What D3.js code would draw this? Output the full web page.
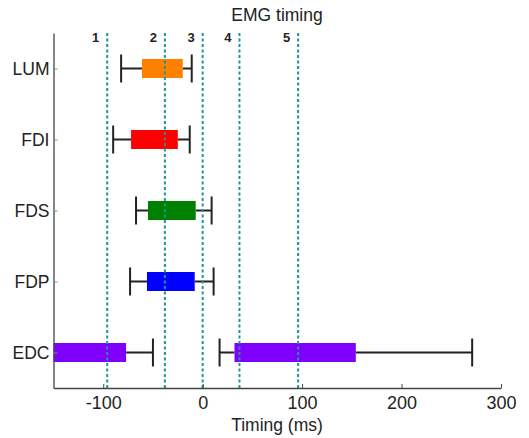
<!DOCTYPE html>
<html><head><meta charset="utf-8">
<script src="https://cdn.jsdelivr.net/npm/d3@7"></script>
<style>body{margin:0;background:#fff;} svg{display:block;font-family:"Liberation Sans",Arial,sans-serif;}</style>
</head><body>
<svg id="c" width="529" height="438"></svg>
<script>
const categories = ["LUM","FDI","FDS","FDP","EDC"];
const colors = ["#ff8000","#ff0000","#008000","#0000ff","#8000ff"];
// each segment: whisker low, box low, box high, whisker high (null = no whisker on that side)
const segments = [
  {cat:"LUM", lo:-82, q1:-61, q3:-20, hi:-11},
  {cat:"FDI", lo:-90, q1:-72, q3:-25, hi:-13},
  {cat:"FDS", lo:-67, q1:-55, q3:-7, hi:9},
  {cat:"FDP", lo:-73, q1:-56, q3:-8, hi:11},
  {cat:"EDC", lo:null, q1:-160, q3:-77, hi:-50},
  {cat:"EDC", lo:17, q1:32, q3:154, hi:271}
];
const eventTimes = [-96, -38, 0, 37, 96];
const eventLabels = ["1","2","3","4","5"];
const xTicks = [-100, 0, 100, 200, 300];

const svg = d3.select("#c");
const L = 53.5, R = 501, T = 33, B = 388;
const x = d3.scaleLinear().domain([-150, 300]).range([L, R]);
const y = d3.scaleLinear().domain([0.5, 5.5]).range([T, B]);
const yc = c => y(categories.indexOf(c) + 1);

svg.append("clipPath").attr("id","clp").append("rect")
  .attr("x", L).attr("y", T).attr("width", R - L).attr("height", B - T);
const g = svg.append("g").attr("clip-path","url(#clp)");

const boxH = 19, capH = 28;
segments.forEach(s => {
  const cy = yc(s.cat);
  const col = colors[categories.indexOf(s.cat)];
  if (s.lo !== null) {
    g.append("line").attr("x1", x(s.lo)).attr("x2", x(s.q1)).attr("y1", cy).attr("y2", cy)
      .attr("stroke","#222").attr("stroke-width",2);
    g.append("line").attr("x1", x(s.lo)).attr("x2", x(s.lo)).attr("y1", cy - capH/2).attr("y2", cy + capH/2)
      .attr("stroke","#222").attr("stroke-width",2);
  }
  if (s.hi !== null) {
    g.append("line").attr("x1", x(s.q3)).attr("x2", x(s.hi)).attr("y1", cy).attr("y2", cy)
      .attr("stroke","#222").attr("stroke-width",2);
    g.append("line").attr("x1", x(s.hi)).attr("x2", x(s.hi)).attr("y1", cy - capH/2).attr("y2", cy + capH/2)
      .attr("stroke","#222").attr("stroke-width",2);
  }
  g.append("rect").attr("x", x(s.q1)).attr("y", cy - boxH/2)
    .attr("width", x(s.q3) - x(s.q1)).attr("height", boxH).attr("fill", col);
});

eventTimes.forEach((t, i) => {
  svg.append("line").attr("x1", x(t)).attr("x2", x(t)).attr("y1", T).attr("y2", B)
    .attr("stroke","#1f9494").attr("stroke-width",2).attr("stroke-dasharray","3,2.5");
  svg.append("text").attr("x", x(t) - 11.5).attr("y", 42).attr("text-anchor","middle")
    .attr("font-size", 13).attr("font-weight","bold").attr("fill","#222").text(eventLabels[i]);
});

const xAxis = d3.axisBottom(x).tickValues(xTicks).tickSizeInner(-4).tickSizeOuter(0).tickPadding(8)
  .tickFormat(d => String(d));
const gx = svg.append("g").attr("transform", `translate(0,${B})`).call(xAxis);
gx.select(".domain").attr("stroke","#444").attr("stroke-width",1.3);
gx.selectAll(".tick line").attr("stroke","#444");
gx.selectAll("text").attr("font-size",18).attr("fill","#222").attr("font-family","Liberation Sans, Arial, sans-serif");

const yAxis = d3.axisLeft(y).tickValues([1,2,3,4,5]).tickFormat(d => categories[d-1]).tickSizeInner(-4).tickSizeOuter(0).tickPadding(4);
const gy = svg.append("g").attr("transform", `translate(${L},0)`).call(yAxis);
gy.select(".domain").attr("stroke","#444").attr("stroke-width",1.3);
gy.selectAll(".tick line").attr("stroke","#888");
gy.selectAll("text").attr("font-size",17.5).attr("fill","#222").attr("font-family","Liberation Sans, Arial, sans-serif");

svg.append("text").attr("x", 277).attr("y", 21).attr("text-anchor","middle")
  .attr("font-size",17.5).attr("fill","#222").text("EMG timing");
svg.append("text").attr("x", 277).attr("y", 431).attr("text-anchor","middle")
  .attr("font-size",17.5).attr("fill","#222").text("Timing (ms)");
</script>
</body></html>
